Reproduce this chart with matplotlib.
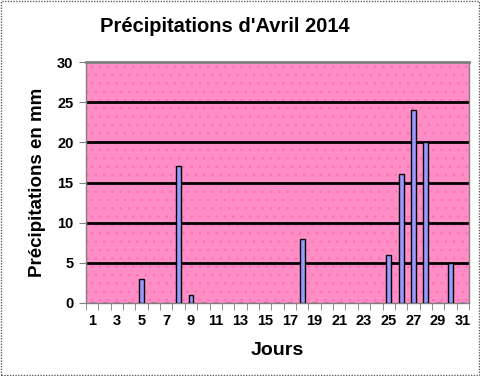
import matplotlib.pyplot as plt
from matplotlib.patches import Rectangle
import numpy as np

plt.rcParams['font.family'] = ['Liberation Sans', 'DejaVu Sans']
plt.rcParams['hatch.linewidth'] = 0.6

# Data: rainfall (mm) per day of April 2014
days = list(range(1, 32))
rain_days = [5, 8, 9, 18, 25, 26, 27, 28, 30]
rain_mm = [3, 17, 1, 8, 6, 16, 24, 20, 5]
y_ticks = [0, 5, 10, 15, 20, 25, 30]

values = np.zeros(len(days))
for d, v in zip(rain_days, rain_mm):
    values[d - 1] = v

fig = plt.figure(figsize=(4.81, 3.76), dpi=100)
ax = fig.add_axes([86 / 481, 1 - 303 / 376, (469 - 86) / 481, (303 - 62) / 376])

# pink dotted background
ax.set_facecolor('#ff8ec6')
ax.add_patch(Rectangle((0, 0), 1, 1, transform=ax.transAxes, facecolor='none',
                       edgecolor='#ff70b4', hatch='..', linewidth=0, zorder=0))

for y in y_ticks[1:-1]:
    ax.axhline(y, color='black', linewidth=2, zorder=1)

ax.bar(days, values, width=0.4, color='#9999ff', edgecolor='black',
       linewidth=1, zorder=3)

ax.set_xlim(0.5, 31.5)
ax.set_ylim(0, 30)
ax.set_yticks(y_ticks)
ax.set_xticks(days[::2])
ax.set_xticks(np.arange(0.5, 32, 1), minor=True)
ax.tick_params(axis='x', which='major', length=0, pad=8, labelsize=10.5)
ax.tick_params(axis='x', which='minor', length=5, color='#808080')
ax.tick_params(axis='y', length=5, color='#808080', labelsize=10.5, pad=4)
for lbl in ax.get_xticklabels() + ax.get_yticklabels():
    lbl.set_fontweight('bold')

for s in ax.spines.values():
    s.set_color('#808080')
    s.set_linewidth(1)
ax.spines['top'].set_linewidth(2)

ax.set_ylabel('Précipitations en mm', fontsize=13.5, fontweight='bold', labelpad=8)
ax.set_xlabel('Jours', fontsize=14, fontweight='bold', labelpad=10)
fig.text(225 / 481, 1 - 27 / 376, "Précipitations d'Avril 2014", ha='center',
         va='center', fontsize=14.5, fontweight='bold')

# dotted chart border
fig.add_artist(Rectangle((0.002, 0.003), 0.994, 0.994, transform=fig.transFigure,
                         facecolor='none', edgecolor='#606060', linestyle=(0, (1, 1)),
                         linewidth=1))

fig.savefig('out.png', dpi=100, facecolor='white')
